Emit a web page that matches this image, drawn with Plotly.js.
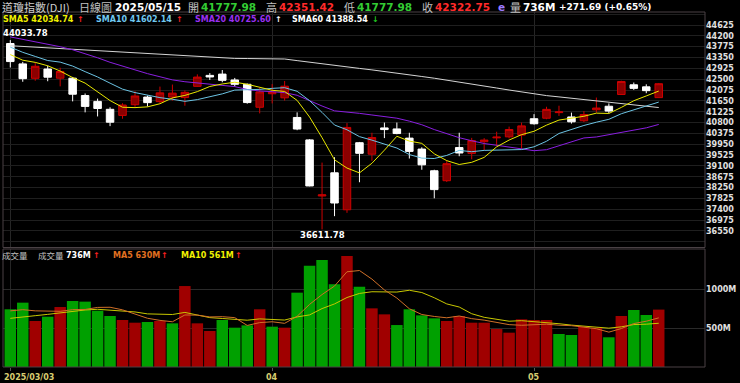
<!DOCTYPE html>
<html><head><meta charset="utf-8">
<script src="https://cdn.plot.ly/plotly-3.0.1.min.js"></script>
<style>html,body{margin:0;padding:0;background:#000;overflow:hidden}#chart{width:740px;height:383px}</style>
</head><body><div id="chart"></div>
<script>
// ---------- data ----------
const dates = ['2025/03/03','2025/03/04','2025/03/05','2025/03/06','2025/03/07','2025/03/10','2025/03/11','2025/03/12','2025/03/13','2025/03/14',
'2025/03/17','2025/03/18','2025/03/19','2025/03/20','2025/03/21','2025/03/24','2025/03/25','2025/03/26','2025/03/27','2025/03/28',
'2025/03/31','2025/04/01','2025/04/02','2025/04/03','2025/04/04','2025/04/07','2025/04/08','2025/04/09','2025/04/10','2025/04/11',
'2025/04/14','2025/04/15','2025/04/16','2025/04/17','2025/04/21','2025/04/22','2025/04/23','2025/04/24','2025/04/25','2025/04/28',
'2025/04/29','2025/04/30','2025/05/01','2025/05/02','2025/05/05','2025/05/06','2025/05/07','2025/05/08','2025/05/09','2025/05/12',
'2025/05/13','2025/05/14','2025/05/15'];
const openP = [43900,43100,42535,42900,42540,42540,41860,41630,41320,41080,
41500,41800,41620,41800,41780,42220,42650,42700,42470,42300,
41400,41930,41770,41000,40120,37920,38830,37380,40010,39560,
40590,40550,40190,39760,38910,38520,39820,39590,40050,40200,
40240,40310,40950,40970,41190,41020,40870,41300,41440,41900,
42280,42200,41777.98];
const highP = [44033.78,43180,43150,43030,42950,42590,41940,41740,41400,41560,
42030,41860,42210,42290,42060,42690,42740,42860,42550,42330,
42160,42310,42430,41200,40150,39230,39440,40780,40040,40400,
40800,40800,40400,39830,38950,39300,40400,40200,40190,40440,
40640,40800,41130,41420,41460,41190,41250,41780,41550,42440,
42370,42300,42351.42];
const lowP = [42960,42400,42440,42420,42220,41630,41200,41040,40660,40950,
41420,41430,41560,41660,41460,42210,42470,42380,42210,41540,
41160,41550,41660,40500,38300,36611.78,37130,37260,38460,39300,
40190,40340,39390,38950,37830,38470,39480,39360,39720,39880,
40180,39770,40720,40930,41060,40760,40820,41190,41170,41880,
42080,41950,41777.98];
const closeP = [43191.24,42520.99,43006.59,42579.08,42801.72,41911.71,41433.48,41350.93,40813.57,41488.19,
41841.63,41581.31,41964.63,41953.32,41985.35,42583.32,42587.50,42454.79,42299.70,41583.90,
42001.76,41989.96,42225.32,40545.93,38314.86,37965.60,37645.59,40608.45,39593.66,40212.71,
40524.79,40368.96,39669.39,39142.23,38170.41,39186.98,39606.57,40093.40,40113.50,40227.59,
40527.62,40669.36,40752.96,41317.43,41218.83,40829.00,41113.97,41368.45,41249.38,42410.10,
42140.43,42051.06,42322.75];
const prevClose = 43840.91;
const sma5 = [43465,43245,43160,43028,42820,42564,42347,42015,41662,41400,
41386,41415,41538,41766,41865,42013,42215,42313,42382,42302,
42186,42066,42020,41669,41016,40208,39340,39016,38826,39205,
39717,40262,40074,39984,39575,39307,39155,39240,39434,39846,
40114,40326,40458,40699,40897,40957,41046,41169,41156,41394,
41656,41844,42035];
const sma10 = [43758,43554,43392,43232,43170,43015,42796,42588,42345,42110,
41975,41881,41777,41714,41632,41700,41815,41925,42074,42084,
42100,42141,42167,42026,41659,41197,40703,40518,40248,40111,
39963,39801,39545,39405,39390,39512,39708,39657,39709,39710,
39711,39741,39849,40067,40372,40536,40686,40814,40927,41146,
41307,41445,41602];
const sma20 = [44158,44063,43986,43871,43774,43654,43503,43340,43163,43001,
42866,42718,42584,42473,42401,42357,42305,42257,42210,42097,
42037,42011,41972,41870,41646,41448,41259,41222,41161,41097,
41031,40971,40856,40715,40525,40355,40206,40088,39978,39910,
39837,39771,39697,39736,39881,40024,40197,40235,40318,40428,
40509,40593,40726];
const sma60 = [43813,43786,43755,43727,43700,43668,43641,43609,43582,43551,
43523,43496,43464,43437,43413,43386,43362,43335,43315,43311,
43303,43300,43292,43229,43163,43096,43033,42982,42923,42865,
42806,42739,42672,42606,42539,42468,42390,42312,42233,42155,
42076,41998,41919,41857,41806,41755,41704,41653,41602,41560,
41500,41445,41389];
const volume = [740,825,590,645,769,846,838,722,654,603,
568,577,590,560,1038,560,462,603,504,534,
740,517,504,953,1299,1372,1060,1423,1030,752,
675,538,740,662,624,590,654,568,568,487,
440,611,603,603,423,410,517,504,381,654,
731,667,736];
const volMa5 = [720,735,720,715,714,735,738,764,766,733,
677,625,598,580,667,665,642,645,633,533,
569,580,560,650,803,929,1038,1221,1237,1127,
988,884,747,673,648,631,654,620,601,573,
543,535,542,549,536,530,511,491,447,493,
557,587,630];
const volMa10 = [624,645,658,675,696,718,731,740,731,723,
706,681,681,673,700,671,633,622,607,600,
617,611,602,642,668,749,809,891,943,965,
959,961,984,955,888,809,769,683,637,611,
587,594,581,575,555,537,523,517,498,515,
544,549,561];
const priceTicks = [36125,36550,36975,37400,37825,38250,38675,39100,39525,39950,40375,40800,41225,41650,42075,42500,42925,43350,43775,44200,44625,45050];
const priceTickText = ['','36550','36975','37400','37825','38250','38675','39100','39525','39950','40375','40800','41225','41650','42075','42500','42925','43350','43775','44200','44625',''];
const volTicks = [500,1000];
const volTickText = ['500M','1000M'];
const monthTicks = ['2025/03/03','2025/04/01','2025/05/01'];
const monthLabels = ['2025/03/03','04','05'];

// ---------- geometry helpers (figure pixels -> paper) ----------
const W=740,H=383,ML=3,MR=35,MT=12,MB=16;
const PW=W-ML-MR, PH=H-MT-MB;
const px = x => (x-ML)/PW;
const py = y => (H-MB-y)/PH;

const UP='#8b0000', UPLINE='#cc0000', VOLUP='#a00000', VOLDN='#00a000';
const volColors = volume.map((v,i)=> closeP[i] >= (i? closeP[i-1] : prevClose) ? VOLUP : VOLDN);

const traces = [
 {type:'candlestick', x:dates, open:openP, high:highP, low:lowP, close:closeP, xaxis:'x', yaxis:'y',
  increasing:{line:{color:UPLINE,width:1}, fillcolor:UP},
  decreasing:{line:{color:'#ffffff',width:1}, fillcolor:'#ffffff'},
  whiskerwidth:0, hoverinfo:'skip', showlegend:false},
 {type:'scatter', mode:'lines', x:dates, y:sma60, line:{color:'#d4d4d4',width:1}, yaxis:'y', hoverinfo:'skip'},
 {type:'scatter', mode:'lines', x:dates, y:sma20, line:{color:'#8a1fe0',width:1}, yaxis:'y', hoverinfo:'skip'},
 {type:'scatter', mode:'lines', x:dates, y:sma10, line:{color:'#6cc3e3',width:1}, yaxis:'y', hoverinfo:'skip'},
 {type:'scatter', mode:'lines', x:dates, y:sma5, line:{color:'#e8e800',width:1}, yaxis:'y', hoverinfo:'skip'},
 {type:'bar', x:dates, y:volume, marker:{color:volColors, line:{width:0}}, yaxis:'y2', hoverinfo:'skip'},
 {type:'scatter', mode:'lines', x:dates, y:volMa10, line:{color:'#c8c800',width:1}, yaxis:'y2', hoverinfo:'skip'},
 {type:'scatter', mode:'lines', x:dates, y:volMa5, line:{color:'#d07028',width:1}, yaxis:'y2', hoverinfo:'skip'}
];

const CJK = 'Noto Sans CJK TC';
function t(text,x,y,color,size,family,weight,anchor){
  return {text:text, x:px(x), y:py(y), xref:'paper', yref:'paper', xanchor:anchor||'left', yanchor:'middle',
    showarrow:false, borderpad:0, font:{family:family||'DejaVu Sans', size:size, color:color, weight:weight||'bold'}};
}
const HY=7, SY=19.5, VY=255;
const annotations = [
 t('道瓊指數(DJI)',1,HY,'#d0d0d0',11,CJK,'normal'),
 t('日線圖',78,HY,'#c0c0c0',11,CJK,'normal'),
 t('2025/05/15',114,HY,'#ffffff',10.5),
 t('開',187,HY,'#c0c0c0',11,CJK,'normal'),
 t('41777.98',200,HY,'#33cc33',10.5),
 t('高',265,HY,'#c0c0c0',11,CJK,'normal'),
 t('42351.42',278,HY,'#ff2a2a',10.5),
 t('低',343,HY,'#c0c0c0',11,CJK,'normal'),
 t('41777.98',356,HY,'#33cc33',10.5),
 t('收',421,HY,'#c0c0c0',11,CJK,'normal'),
 t('42322.75',434,HY,'#ff2a2a',10.5),
 t('e',497,HY,'#9b7bff',10.5),
 t('量',509,HY,'#c0c0c0',11,CJK,'normal'),
 t('736M',522,HY,'#ffffff',10.5),
 t('+271.69 (+0.65%)',558,HY,'#ffffff',9),

 t('SMA5 42034.74',2,SY,'#f0f000',8),
 t('↑',76,SY,'#ff2020',8),
 t('SMA10 41602.14',95,SY,'#70c8f0',8),
 t('↑',175,SY,'#ff2020',8),
 t('SMA20 40725.60',194,SY,'#9a30f0',8),
 t('↑',274,SY,'#ffffff',8),
 t('SMA60 41388.54',291,SY,'#ffffff',8),
 t('↓',371,SY,'#22cc22',8),

 t('成交量',1,VY,'#c0c0c0',8.5,CJK,'normal'),
 t('成交量',37,VY,'#c0c0c0',8.5,CJK,'normal'),
 t('736M',65,VY,'#ffffff',8),
 t('↑',92,VY,'#ff2020',8),
 t('MA5 630M',112,VY,'#e07020',8),
 t('↑',160,VY,'#ff2020',8),
 t('MA10 561M',180,VY,'#f0f000',8),
 t('↑',234,VY,'#ff2020',8),

 t(monthLabels[0],3,377,'#d8cc70',8),
 {text:monthLabels[1], x:monthTicks[1], xref:'x', y:py(377), yref:'paper', xanchor:'center', yanchor:'middle', showarrow:false, borderpad:0, font:{family:'DejaVu Sans',size:8,color:'#d8cc70',weight:'bold'}},
 {text:monthLabels[2], x:monthTicks[2], xref:'x', y:py(377), yref:'paper', xanchor:'center', yanchor:'middle', showarrow:false, borderpad:0, font:{family:'DejaVu Sans',size:8,color:'#d8cc70',weight:'bold'}},

 {text:String(highP[0]), x:px(2), xref:'paper', y:highP[0], yref:'y', xanchor:'left', yanchor:'bottom', yshift:1, showarrow:false, borderpad:0, font:{family:'DejaVu Sans',size:8.5,color:'#ffffff',weight:'bold'}},
 {text:String(lowP[25]), x:dates[25], xref:'x', y:lowP[25], yref:'y', xanchor:'center', yanchor:'top', yshift:0, showarrow:false, borderpad:0, font:{family:'DejaVu Sans',size:8.5,color:'#ffffff',weight:'bold'}}
];

const mainBottom = py(247.5), volTop = py(249);
const FRAME='#4a4145';
const shapes = [
 {type:'rect', xref:'paper', yref:'paper', x0:0, x1:1, y0:mainBottom, y1:1, line:{color:FRAME,width:1}},
 {type:'rect', xref:'paper', yref:'paper', x0:0, x1:1, y0:0, y1:volTop, line:{color:FRAME,width:1}}
];

const layout = {
  width:W, height:H, margin:{l:ML,r:MR,t:MT,b:MB,pad:0},
  paper_bgcolor:'#000', plot_bgcolor:'#000', showlegend:false, dragmode:false,
  boxgap:0.14, bargap:0.08,
  xaxis:{type:'category', range:[-0.585,55.71], anchor:'y2', tickvals:monthTicks, showticklabels:false,
    showgrid:true, gridcolor:'#262626', gridwidth:1, ticks:'outside', ticklen:3, tickcolor:'#555',
    zeroline:false, showline:false, rangeslider:{visible:false}, fixedrange:true, automargin:false},
  yaxis:{domain:[mainBottom,1], range:[35901,45135], side:'right', anchor:'x', tickvals:priceTicks, ticktext:priceTickText,
    tickfont:{family:'DejaVu Sans',size:8,color:'#e0e0e0',weight:'bold'}, gridcolor:'#1f1f1f', gridwidth:1,
    zeroline:false, showline:false, ticks:'', fixedrange:true, automargin:false},
  yaxis2:{domain:[0,volTop], range:[0,1513], side:'right', anchor:'x', tickvals:volTicks, ticktext:volTickText,
    tickfont:{family:'DejaVu Sans',size:8,color:'#e0e0e0',weight:'bold'}, gridcolor:'#2a2a2a', gridwidth:1,
    zeroline:false, showline:false, ticks:'', fixedrange:true, automargin:false},
  annotations:annotations, shapes:shapes
};
Plotly.newPlot('chart', traces, layout, {displayModeBar:false, staticPlot:true});
</script></body></html>
